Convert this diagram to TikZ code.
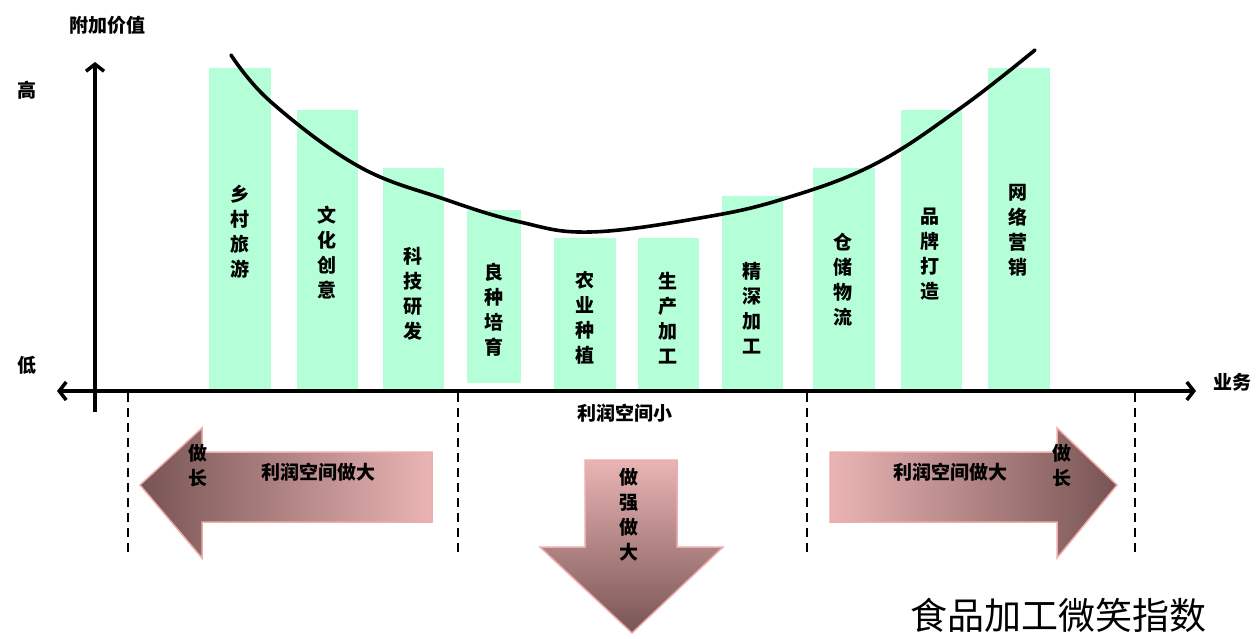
\documentclass[tikz,border=0pt]{standalone}
\usepackage{fontspec}
\newfontfamily\cjk{Noto Sans CJK SC}
\usetikzlibrary{arrows.meta}
\definecolor{barmint}{RGB}{180,255,215}
\definecolor{arrowdark}{RGB}{120,84,84}
\definecolor{arrowlight}{RGB}{234,180,180}
\definecolor{arrowedge}{RGB}{238,172,172}
\tikzset{
  bar/.style        = {fill=barmint},
  barlabel/.style   = {font=\cjk\bfseries\fontsize{19}{25}\selectfont,
                       align=center, inner sep=0pt},
  axislabel/.style  = {font=\cjk\bfseries\fontsize{19}{23}\selectfont,
                       inner sep=0pt},
  axisline/.style   = {line width=3.5pt},
  divider/.style    = {line width=2.2pt, dash pattern=on 9pt off 6pt},
  bigarrow/.style   = {draw=arrowedge, line width=1.5pt},
  smile/.style      = {line width=3.6pt, line cap=round}
}

\begin{document}
\begin{tikzpicture}
  [
    x = 1pt,
    y = -1pt,
    >= {Straight Barb[length=7pt,width=18pt,line width=3.5pt]}
  ]
\useasboundingbox (0,0) rectangle (1256,639);

\fill[bar] (209,68)  rectangle (271,391);
\fill[bar] (297,110) rectangle (358,391);
\fill[bar] (383,168) rectangle (444,391);
\fill[bar] (467,210) rectangle (521,383);
\fill[bar] (554,238) rectangle (616,391);
\fill[bar] (638,238) rectangle (699,391);
\fill[bar] (722,196) rectangle (783,391);
\fill[bar] (813,168) rectangle (875,391);
\fill[bar] (901,110) rectangle (962,391);
\fill[bar] (988,68)  rectangle (1050,391);

\node[barlabel] (tourism)   at (240,232)  {乡\\村\\旅\\游};
\node[barlabel] (culture)   at (327,253)  {文\\化\\创\\意};
\node[barlabel] (research)  at (413,294)  {科\\技\\研\\发};
\node[barlabel] (breeding)  at (494,310)  {良\\种\\培\\育};
\node[barlabel] (planting)  at (585,318)  {农\\业\\种\\植};
\node[barlabel] (process)   at (668,318)  {生\\产\\加\\工};
\node[barlabel] (refining)  at (752,308)  {精\\深\\加\\工};
\node[barlabel] (logistics) at (843,280)  {仓\\储\\物\\流};
\node[barlabel] (brand)     at (930,254)  {品\\牌\\打\\造};
\node[barlabel] (online)    at (1018,230) {网\\络\\营\\销};

\draw[smile] plot[smooth, tension=0.65] coordinates
  {(231,55) (271,102) (358,166) (444,199) (520,222) (590,232)
   (700,218) (783,199) (875,164) (962,107) (1035,50)};

\coordinate (xleft)   at (57,391);
\coordinate (xright)  at (1196,391);
\coordinate (ybottom) at (95,412);
\coordinate (ytop)    at (95,62);
\draw[axisline, <->] (xleft) -- (xright);
\draw[axisline, ->] (ybottom) -- (ytop);

\node[axislabel] (value)    at (107,25)  {附加价值};
\node[axislabel] (high)     at (27,90)   {高};
\node[axislabel] (low)      at (27,365)  {低};
\node[axislabel] (business) at (1232,382) {业务};
\node[axislabel] (narrow)   at (625,413) {利润空间小};

\coordinate (cut1top) at (128,393);  \coordinate (cut1bot) at (128,557);
\coordinate (cut2top) at (458,393);  \coordinate (cut2bot) at (458,557);
\coordinate (cut3top) at (807,393);  \coordinate (cut3bot) at (807,557);
\coordinate (cut4top) at (1135,393); \coordinate (cut4bot) at (1135,557);
\draw[divider] (cut1top) -- (cut1bot);
\draw[divider] (cut2top) -- (cut2bot);
\draw[divider] (cut3top) -- (cut3bot);
\draw[divider] (cut4top) -- (cut4bot);

\shade[bigarrow, left color=arrowdark, right color=arrowlight]
  (140,485) -- (202,428) -- (202,452) -- (432,452) -- (432,522)
  -- (202,522) -- (202,558) -- cycle;
\shade[bigarrow, left color=arrowlight, right color=arrowdark]
  (1117,485) -- (1057,428) -- (1057,452) -- (830,452) -- (830,522)
  -- (1057,522) -- (1057,558) -- cycle;
\shade[bigarrow, top color=arrowlight, bottom color=arrowdark]
  (585,460) -- (677,460) -- (677,547) -- (723,547) -- (632,633)
  -- (540,547) -- (585,547) -- cycle;

\node[axislabel] (growleft)  at (318,472) {利润空间做大};
\node[barlabel]  (longleft)  at (198,466) {做\\长};
\node[axislabel] (growright) at (950,472) {利润空间做大};
\node[barlabel]  (longright) at (1062,466) {做\\长};
\node[barlabel]  (stronger)  at (629,515) {做\\强\\做\\大};

\node[font=\cjk\fontsize{37}{40}\selectfont, inner sep=0pt] (title)
  at (1058,615) {食品加工微笑指数};
\end{tikzpicture}
\end{document}
